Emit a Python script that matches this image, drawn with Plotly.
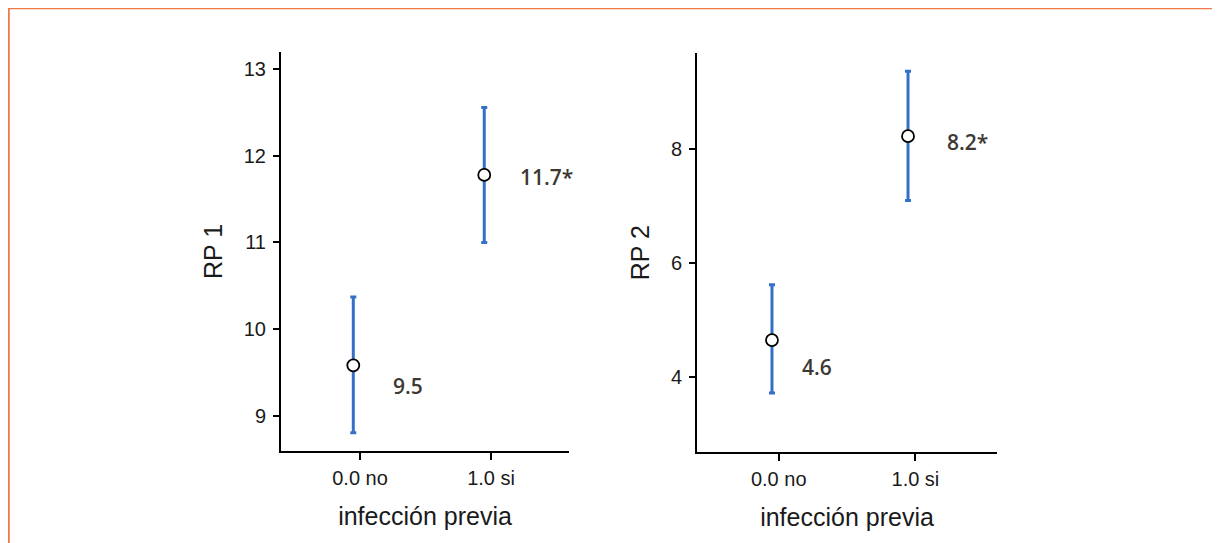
import plotly.graph_objects as go

# ---------------- data ----------------
categories = ["0.0 no", "1.0 si"]

rp1_mean = [9.58, 11.78]
rp1_upper = [10.37, 12.56]
rp1_lower = [8.80, 11.00]
rp1_labels = ["9.5", "11.7*"]
rp1_ticks = [9, 10, 11, 12, 13]

rp2_mean = [4.65, 8.23]
rp2_upper = [5.62, 9.37]
rp2_lower = [3.72, 7.10]
rp2_labels = ["4.6", "8.2*"]
rp2_ticks = [4, 6, 8]

x_title = "infección previa"
y_titles = ["RP 1", "RP 2"]

# ---------------- style ----------------
# page body has an 8px margin: figure sized to fit the window, coordinates
# below are given in window pixels and converted.
OFF = 8
W, H = 1220 - OFF, 543 - OFF
BLUE = "#3570C8"
TXT = "#1a1a1a"
LBL = "#3d3934"
AX_FONT = "Liberation Sans, Arial, sans-serif"
LBL_FONT = "Open Sans, sans-serif"

# per-label pixel offsets (x, y) relative to the point
rp1_label_shift = [(38, -21), (34, -2)]
rp2_label_shift = [(28, -27), (37, -6)]


def px_x(a, b):
    return [(a - OFF) / W, (b - OFF) / W]


def px_y(top, bottom):
    return [1 - (bottom - OFF) / H, 1 - (top - OFF) / H]


panels = [
    dict(mean=rp1_mean, up=rp1_upper, lo=rp1_lower, labels=rp1_labels, ticks=rp1_ticks,
         shift=rp1_label_shift, xdom=px_x(281, 569), ydom=px_y(52, 451),
         yrange=[8.59, 13.2], xdata=[-0.552, 1.647], xtick=[-0.603, 1.595], title=y_titles[0]),
    dict(mean=rp2_mean, up=rp2_upper, lo=rp2_lower, labels=rp2_labels, ticks=rp2_ticks,
         shift=rp2_label_shift, xdom=px_x(697, 997), ydom=px_y(53, 452.3),
         yrange=[2.68, 9.69], xdata=[-0.551, 1.654], xtick=[-0.598, 1.597], title=y_titles[1]),
]

fig = go.Figure()
layout = dict(
    width=W, height=H, margin=dict(l=0, r=0, t=0, b=0),
    paper_bgcolor="white", plot_bgcolor="white", showlegend=False,
    annotations=[], shapes=[],
)

for i, p in enumerate(panels):
    n = 2 * i + 1          # data x axis index
    t = 2 * i + 2          # tick x axis index
    yi = i + 1
    xd = "x" if n == 1 else f"x{n}"
    xt = f"x{t}"
    yk = "y" if yi == 1 else f"y{yi}"

    err_plus = [u - m for u, m in zip(p["up"], p["mean"])]
    err_minus = [m - l for m, l in zip(p["mean"], p["lo"])]

    fig.add_trace(go.Scatter(
        x=categories, y=p["mean"], mode="markers", xaxis=xd, yaxis=yk,
        marker=dict(size=12, color="white", line=dict(color="black", width=1.8)),
        error_y=dict(type="data", symmetric=False, array=err_plus, arrayminus=err_minus,
                     color=BLUE, thickness=3, width=3),
        hoverinfo="x+y",
    ))
    # ghost trace carrying the category ticks
    fig.add_trace(go.Scatter(x=categories, y=[None, None], xaxis=xt, yaxis=yk,
                             mode="markers", hoverinfo="skip", showlegend=False))

    layout[f"xaxis{'' if n == 1 else n}"] = dict(
        domain=p["xdom"], anchor=yk, type="category", categoryorder="array",
        categoryarray=categories, range=p["xdata"], showline=True, linecolor="black",
        linewidth=2, ticks="", showticklabels=False, showgrid=False, zeroline=False,
        fixedrange=True,
    )
    layout[f"xaxis{t}"] = dict(
        overlaying=xd, anchor=yk, type="category", categoryorder="array",
        categoryarray=categories, range=p["xtick"], showline=False, ticks="outside",
        ticklen=8, tickwidth=2, tickcolor="black", showgrid=False, zeroline=False,
        tickfont=dict(family=AX_FONT, size=20, color=TXT), ticklabelstandoff=1,
        title=dict(text=x_title, font=dict(family=AX_FONT, size=25, color=TXT), standoff=19),
    )
    layout[f"yaxis{'' if yi == 1 else yi}"] = dict(
        domain=p["ydom"], anchor=xd, range=p["yrange"], tickmode="array", tickvals=p["ticks"],
        showline=True, linecolor="black", linewidth=2, ticks="outside", ticklen=6,
        tickwidth=2, tickcolor="black", showgrid=False, zeroline=False,
        tickfont=dict(family=AX_FONT, size=20, color=TXT), ticklabelstandoff=3,
        title=dict(text=p["title"], font=dict(family=AX_FONT, size=25, color=TXT), standoff=14),
    )

    for c, m, lab, (dx, dy) in zip(categories, p["mean"], p["labels"], p["shift"]):
        layout["annotations"].append(dict(
            x=c, y=m, xref=xd, yref=yk, text=lab, showarrow=False,
            xanchor="left", yanchor="middle", xshift=dx, yshift=dy,
            font=dict(family=LBL_FONT, size=21, color=LBL, weight=600),
        ))

# orange frame (top and left edges visible)
layout["shapes"].append(dict(
    type="rect", xref="paper", yref="paper",
    x0=0.8 / W, x1=1.02, y0=-0.02, y1=1 - 0.2 / H,
    line=dict(color="#EF7A48", width=2), fillcolor="rgba(0,0,0,0)", layer="above",
))

fig.update_layout(**layout)
fig.write_html("out.html")
